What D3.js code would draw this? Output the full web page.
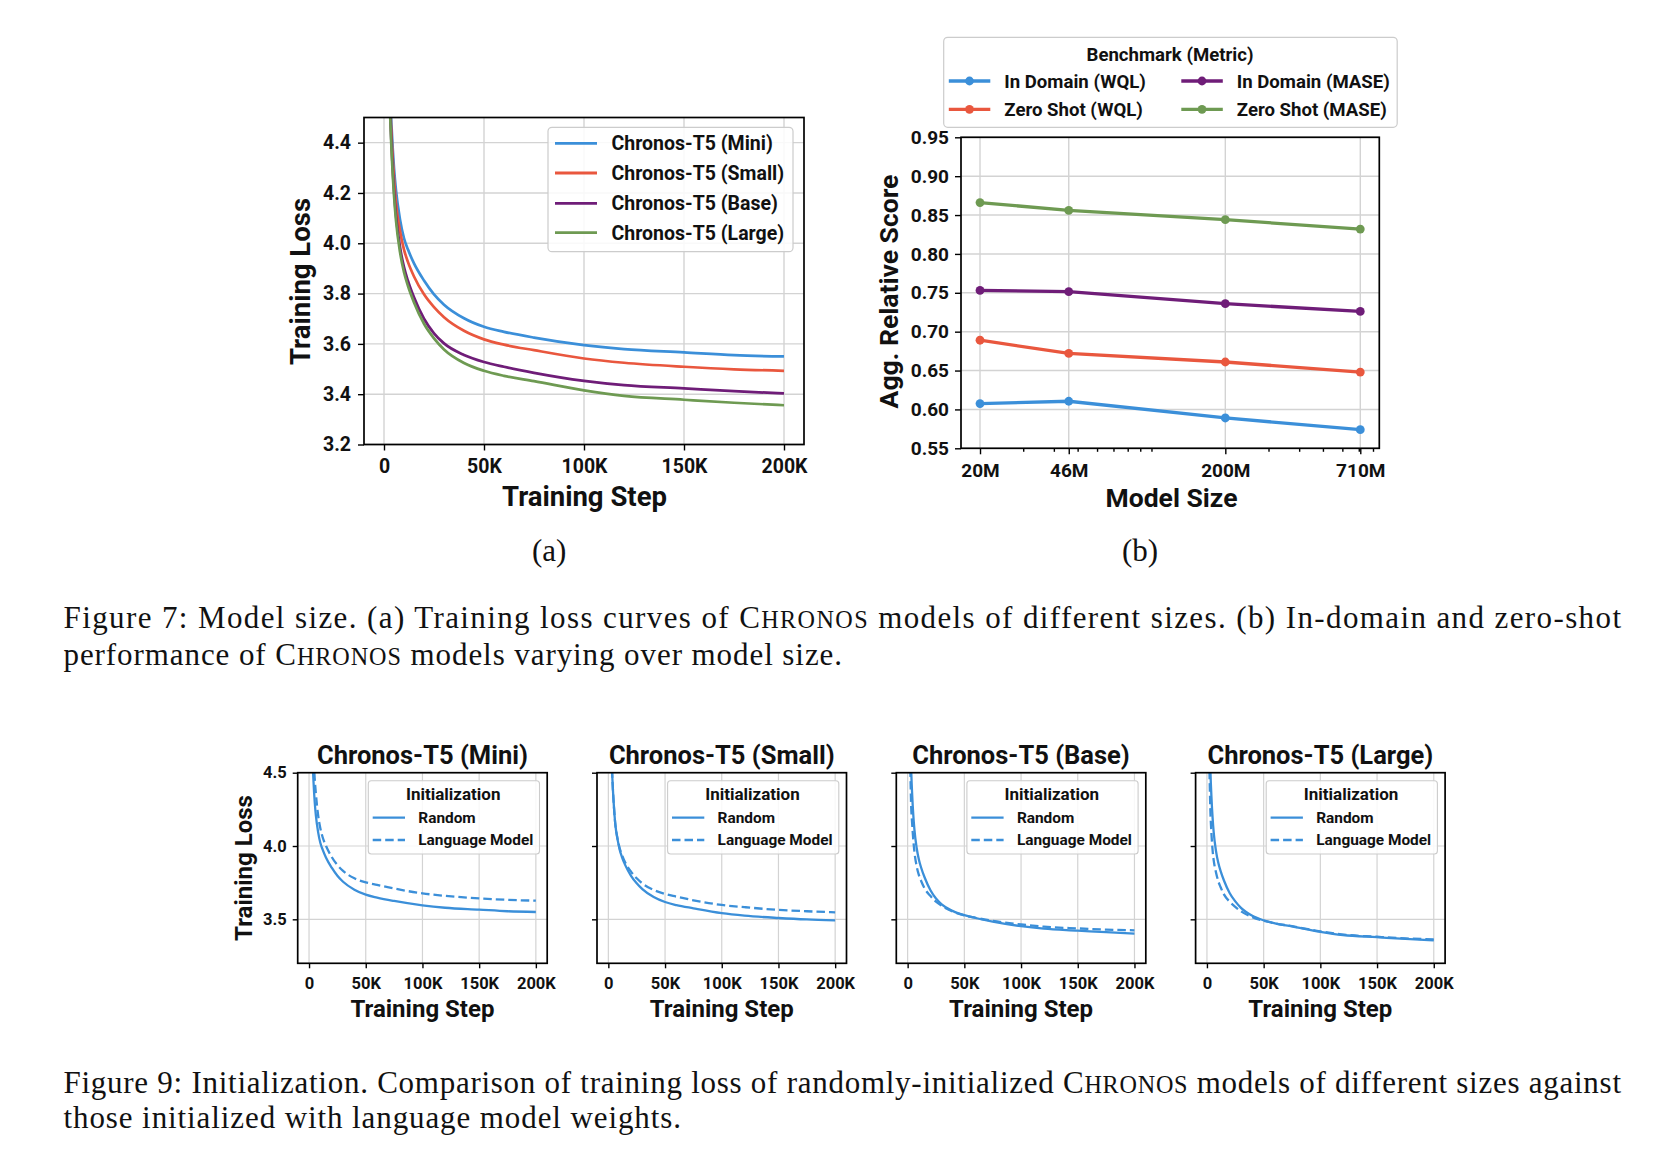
<!DOCTYPE html>
<html><head><meta charset="utf-8">
<script src="https://cdn.jsdelivr.net/npm/d3@7"></script>
<style>body{margin:0;background:#fff}svg{display:block}</style>
</head><body>
<svg id="fig" width="1660" height="1156"></svg>
<script>
// ---------------- DATA ----------------
const steps = [2000,3000,4000,5000,6000,8000,10000,12000,15000,20000,25000,30000,40000,50000,60000,75000,100000,120000,150000,175000,200000];
const stepTicks = [0,50000,100000,150000,200000];
const lossTicksA = [3.2,3.4,3.6,3.8,4.0,4.2,4.4];
const lossTicksB = [3.5,4.0,4.5];

const modelNames = ["Chronos-T5 (Mini)","Chronos-T5 (Small)","Chronos-T5 (Base)","Chronos-T5 (Large)"];
const lossMini  = [5.00,4.62,4.43,4.30,4.21,4.095,4.02,3.975,3.92,3.852,3.797,3.756,3.702,3.668,3.648,3.625,3.595,3.579,3.566,3.555,3.550];
const lossSmall = [4.95,4.58,4.39,4.26,4.16,4.05,3.975,3.925,3.868,3.797,3.746,3.706,3.652,3.618,3.597,3.575,3.542,3.525,3.509,3.499,3.493];
const lossBase  = [4.90,4.55,4.35,4.21,4.11,3.985,3.905,3.85,3.785,3.70,3.642,3.602,3.556,3.528,3.509,3.485,3.453,3.436,3.423,3.412,3.403];
const lossLarge = [4.88,4.53,4.33,4.19,4.09,3.965,3.885,3.83,3.765,3.68,3.622,3.578,3.524,3.493,3.473,3.452,3.415,3.393,3.378,3.366,3.356];

const lmMini  = [5.10,4.80,4.60,4.46,4.36,4.21,4.12,4.06,4.00,3.925,3.87,3.83,3.78,3.752,3.735,3.71,3.677,3.66,3.643,3.633,3.627];
const lmSmall = [4.95,4.58,4.39,4.26,4.16,4.055,3.985,3.94,3.885,3.825,3.78,3.745,3.70,3.673,3.655,3.63,3.598,3.583,3.564,3.555,3.548];
const lmBase  = [4.70,4.30,4.15,4.04,3.96,3.86,3.80,3.76,3.71,3.66,3.62,3.592,3.553,3.527,3.51,3.49,3.465,3.45,3.438,3.43,3.425];
const lmLarge = [4.60,4.25,4.08,3.97,3.90,3.82,3.76,3.72,3.67,3.62,3.585,3.555,3.515,3.49,3.473,3.453,3.418,3.396,3.381,3.37,3.363];

const modelSizes = [20e6,46e6,200e6,710e6];
const modelSizeLabels = ["20M","46M","200M","710M"];
const minorSizes = [30e6,40e6,50e6,60e6,70e6,80e6,90e6,100e6,300e6,400e6,500e6,600e6,700e6,800e6];
const scoreTicks = [0.55,0.60,0.65,0.70,0.75,0.80,0.85,0.90,0.95];
const benchNames = ["In Domain (WQL)","Zero Shot (WQL)","In Domain (MASE)","Zero Shot (MASE)"];
const inDomainWQL  = [0.6075,0.6105,0.589,0.574];
const zeroShotWQL  = [0.689,0.672,0.661,0.648];
const inDomainMASE = [0.753,0.7515,0.736,0.726];
const zeroShotMASE = [0.866,0.856,0.844,0.832];

const colors = {blue:"#3b8fd9", red:"#e9573e", purple:"#6f1d78", green:"#6e9a52"};

// ---------------- HELPERS ----------------
const svg = d3.select("#fig");
const FONT = "Roboto, 'DejaVu Sans', sans-serif";
const SERIF = "'Liberation Serif', 'DejaVu Serif', serif";
const fmtK = d => d === 0 ? "0" : (d/1000) + "K";
const GRID = "#d3d3d3";

function styleAxis(g, size) {
  g.select(".domain").remove();
  g.selectAll(".tick line").attr("stroke","#000").attr("stroke-width",1.4);
  g.selectAll(".tick text").attr("font-family",FONT).attr("font-weight",700)
    .attr("font-size",size).attr("fill","#111");
}
function frame(g, b) {
  g.append("rect").attr("x",b.l).attr("y",b.t).attr("width",b.r-b.l).attr("height",b.b-b.t)
    .attr("fill","none").attr("stroke","#000").attr("stroke-width",1.7);
}
function label(g, txt, x, y, size, rotate) {
  const t = g.append("text").attr("font-family",FONT).attr("font-weight",700).attr("font-size",size)
    .attr("text-anchor","middle").attr("dy","0.35em").attr("fill","#111").text(txt);
  if (rotate) t.attr("transform",`translate(${x},${y}) rotate(-90)`);
  else t.attr("x",x).attr("y",y);
  return t;
}
function clipRect(id, b) {
  svg.append("clipPath").attr("id",id).append("rect")
    .attr("x",b.l).attr("y",b.t).attr("width",b.r-b.l).attr("height",b.b-b.t);
}

// ---------------- PANEL (a) ----------------
{
  const A = {l:364, r:804, t:117.5, b:444.5};
  const x = d3.scaleLinear().domain([-10000,210000]).range([A.l,A.r]);
  const y = d3.scaleLinear().domain([3.2,4.5]).range([A.b,A.t]);
  const g = svg.append("g");
  g.selectAll(null).data(stepTicks).join("line").attr("x1",d=>x(d)).attr("x2",d=>x(d))
    .attr("y1",A.t).attr("y2",A.b).attr("stroke",GRID).attr("stroke-width",1.4);
  g.selectAll(null).data(lossTicksA).join("line").attr("y1",d=>y(d)).attr("y2",d=>y(d))
    .attr("x1",A.l).attr("x2",A.r).attr("stroke",GRID).attr("stroke-width",1.4);
  clipRect("clipA", A);
  const line = d3.line().x((d,i)=>x(steps[i])).y(d=>y(d)).curve(d3.curveMonotoneX);
  const series = [[lossMini,colors.blue],[lossSmall,colors.red],[lossBase,colors.purple],[lossLarge,colors.green]];
  g.append("g").attr("clip-path","url(#clipA)").selectAll("path").data(series).join("path")
    .attr("d",d=>line(d[0])).attr("fill","none").attr("stroke",d=>d[1]).attr("stroke-width",2.7);
  g.append("g").attr("transform",`translate(0,${A.b})`)
    .call(d3.axisBottom(x).tickValues(stepTicks).tickFormat(fmtK).tickSize(6).tickPadding(9)).call(styleAxis,19.5);
  g.append("g").attr("transform",`translate(${A.l},0)`)
    .call(d3.axisLeft(y).tickValues(lossTicksA).tickFormat(d3.format(".1f")).tickSize(6).tickPadding(7)).call(styleAxis,19.5);
  frame(g, A);
  // legend
  const L = g.append("g");
  L.append("rect").attr("x",548).attr("y",127.3).attr("width",245).attr("height",124.4).attr("rx",4)
    .attr("fill","#fff").attr("fill-opacity",0.85).attr("stroke","#cccccc").attr("stroke-width",1.2);
  const ly = [143.3,173,203.3,232.7];
  series.forEach((s,i)=>{
    L.append("line").attr("x1",555).attr("x2",597).attr("y1",ly[i]).attr("y2",ly[i]).attr("stroke",s[1]).attr("stroke-width",2.8);
    L.append("text").attr("x",611.5).attr("y",ly[i]).attr("dy","0.35em").attr("font-family",FONT).attr("font-weight",700)
      .attr("font-size",19.5).attr("fill","#111").text(modelNames[i]);
  });
  label(g,"Training Loss",300.5,281.5,27.5,true);
  label(g,"Training Step",584.5,496.5,27.5,false);
}

// ---------------- PANEL (b) ----------------
{
  const B = {l:961, r:1379.3, t:137.3, b:448.3};
  const lmin = Math.log10(d3.min(modelSizes)), lmax = Math.log10(d3.max(modelSizes));
  const pad = (lmax-lmin)*0.05;
  const x = d3.scaleLog().domain([10**(lmin-pad),10**(lmax+pad)]).range([B.l,B.r]);
  const y = d3.scaleLinear().domain([0.55,0.95]).range([B.b,B.t]);
  const g = svg.append("g");
  g.selectAll(null).data(modelSizes).join("line").attr("x1",d=>x(d)).attr("x2",d=>x(d))
    .attr("y1",B.t).attr("y2",B.b).attr("stroke",GRID).attr("stroke-width",1.4);
  g.selectAll(null).data(scoreTicks).join("line").attr("y1",d=>y(d)).attr("y2",d=>y(d))
    .attr("x1",B.l).attr("x2",B.r).attr("stroke",GRID).attr("stroke-width",1.4);
  const series = [[inDomainWQL,colors.blue],[zeroShotWQL,colors.red],[inDomainMASE,colors.purple],[zeroShotMASE,colors.green]];
  const line = d3.line().x((d,i)=>x(modelSizes[i])).y(d=>y(d));
  series.forEach(s=>{
    g.append("path").attr("d",line(s[0])).attr("fill","none").attr("stroke",s[1]).attr("stroke-width",3.3);
    g.selectAll(null).data(s[0]).join("circle").attr("cx",(d,i)=>x(modelSizes[i])).attr("cy",d=>y(d))
      .attr("r",4.4).attr("fill",s[1]);
  });
  g.append("g").attr("transform",`translate(0,${B.b})`)
    .call(d3.axisBottom(x).tickValues(minorSizes).tickFormat("").tickSize(3.5)).call(styleAxis,19);
  g.append("g").attr("transform",`translate(0,${B.b})`)
    .call(d3.axisBottom(x).tickValues(modelSizes).tickFormat((d,i)=>modelSizeLabels[i]).tickSize(6).tickPadding(9)).call(styleAxis,19);
  g.append("g").attr("transform",`translate(${B.l},0)`)
    .call(d3.axisLeft(y).tickValues(scoreTicks).tickFormat(d3.format(".2f")).tickSize(6).tickPadding(6)).call(styleAxis,19);
  frame(g, B);
  // legend
  const L = g.append("g");
  L.append("rect").attr("x",943.7).attr("y",37.3).attr("width",453.5).attr("height",90).attr("rx",4)
    .attr("fill","#fff").attr("stroke","#cccccc").attr("stroke-width",1.2);
  L.append("text").attr("x",1170).attr("y",54).attr("dy","0.35em").attr("text-anchor","middle")
    .attr("font-family",FONT).attr("font-weight",700).attr("font-size",18.6).attr("fill","#111").text("Benchmark (Metric)");
  const pos = [[948.8,81],[948.8,109.3],[1181.3,81],[1181.3,109.3]];
  series.forEach((s,i)=>{
    const [lx,ly] = pos[i];
    L.append("line").attr("x1",lx).attr("x2",lx+41.5).attr("y1",ly).attr("y2",ly).attr("stroke",s[1]).attr("stroke-width",3.3);
    L.append("circle").attr("cx",lx+20.7).attr("cy",ly).attr("r",4.4).attr("fill",s[1]);
    L.append("text").attr("x",lx+55.5).attr("y",ly).attr("dy","0.35em").attr("font-family",FONT).attr("font-weight",700)
      .attr("font-size",18.6).attr("fill","#111").text(benchNames[i]);
  });
  label(g,"Agg. Relative Score",889,291.5,26.5,true);
  label(g,"Model Size",1171.5,497.5,26.5,false);
}

// ---------------- FIGURE 9 PANELS ----------------
{
  const randomSeries = [lossMini,lossSmall,lossBase,lossLarge];
  const lmSeries = [lmMini,lmSmall,lmBase,lmLarge];
  const W = 249.5, top = 772.7, bottom = 963.3;
  randomSeries.forEach((rs,i)=>{
    const P = {l:297.7 + i*299.3, t:top, b:bottom};
    P.r = P.l + W;
    const x = d3.scaleLinear().domain([-10000,210000]).range([P.l,P.r]);
    const y = d3.scaleLinear().domain([3.2,4.5]).range([P.b,P.t]);
    const g = svg.append("g");
    g.selectAll(null).data(stepTicks).join("line").attr("x1",d=>x(d)).attr("x2",d=>x(d))
      .attr("y1",P.t).attr("y2",P.b).attr("stroke",GRID).attr("stroke-width",1.2);
    g.selectAll(null).data(lossTicksB).join("line").attr("y1",d=>y(d)).attr("y2",d=>y(d))
      .attr("x1",P.l).attr("x2",P.r).attr("stroke",GRID).attr("stroke-width",1.2);
    clipRect("clipP"+i, P);
    const line = d3.line().x((d,k)=>x(steps[k])).y(d=>y(d)).curve(d3.curveMonotoneX);
    const cg = g.append("g").attr("clip-path",`url(#clipP${i})`);
    cg.append("path").attr("d",line(rs)).attr("fill","none").attr("stroke",colors.blue).attr("stroke-width",2.3);
    cg.append("path").attr("d",line(lmSeries[i])).attr("fill","none").attr("stroke",colors.blue)
      .attr("stroke-width",2.3).attr("stroke-dasharray","8.5,4");
    g.append("g").attr("transform",`translate(0,${P.b})`)
      .call(d3.axisBottom(x).tickValues(stepTicks).tickFormat(fmtK).tickSize(5).tickPadding(9)).call(styleAxis,16.5);
    g.append("g").attr("transform",`translate(${P.l},0)`)
      .call(d3.axisLeft(y).tickValues(lossTicksB).tickFormat(i===0 ? d3.format(".1f") : "").tickSize(5).tickPadding(6)).call(styleAxis,16.5);
    frame(g, P);
    // legend
    const L = g.append("g");
    L.append("rect").attr("x",P.l+70.6).attr("y",780.7).attr("width",W-78.3).attr("height",73.3).attr("rx",3)
      .attr("fill","#fff").attr("fill-opacity",0.85).attr("stroke","#cccccc").attr("stroke-width",1.1);
    L.append("text").attr("x",P.l+155.5).attr("y",794.3).attr("dy","0.35em").attr("text-anchor","middle")
      .attr("font-family",FONT).attr("font-weight",700).attr("font-size",17).attr("fill","#111").text("Initialization");
    [["Random",817.7,null],["Language Model",840,"8.5,4"]].forEach(([t,ly,dash])=>{
      const ln = L.append("line").attr("x1",P.l+75).attr("x2",P.l+107.3).attr("y1",ly).attr("y2",ly)
        .attr("stroke",colors.blue).attr("stroke-width",2.3);
      if (dash) ln.attr("stroke-dasharray",dash);
      L.append("text").attr("x",P.l+120.6).attr("y",ly).attr("dy","0.35em").attr("font-family",FONT).attr("font-weight",700)
        .attr("font-size",15.4).attr("fill","#111").text(t);
    });
    label(g, modelNames[i], (P.l+P.r)/2, 755, 25.5, false);
    label(g, "Training Step", (P.l+P.r)/2, 1008.3, 24, false);
    if (i===0) label(g, "Training Loss", 243.3, 868, 24, true);
  });
}

// ---------------- CAPTIONS ----------------
function caption(parts, x, y, len, size) {
  const t = svg.append("text").attr("x",x).attr("y",y).attr("font-family",SERIF).attr("font-size",size).attr("fill","#111");
  if (len) t.attr("textLength",len).attr("lengthAdjust","spacing");
  parts.forEach(p=>{
    if (typeof p === "string") t.append("tspan").text(p);
    else { // small caps word
      t.append("tspan").text(p.sc[0]);
      t.append("tspan").attr("font-size",size*0.78).text(p.sc.slice(1).toUpperCase());
    }
  });
}
const CAP = 31;
caption(["(a)"], 532, 561, null, CAP);
caption(["(b)"], 1122, 561, null, CAP);
caption(["Figure 7:  Model size.  (a) Training loss curves of ",{sc:"Chronos"}," models of different sizes.  (b) In-domain and zero-shot"], 63.5, 628, 1557.5, CAP);
caption(["performance of ",{sc:"Chronos"}," models varying over model size."], 63.5, 665, 778.5, CAP);
caption(["Figure 9:  Initialization.  Comparison of training loss of randomly-initialized ",{sc:"Chronos"}," models of different sizes against"], 63.5, 1092.5, 1557.5, CAP);
caption(["those initialized with language model weights."], 63.5, 1127.5, 617.5, CAP);
</script>
</body></html>
